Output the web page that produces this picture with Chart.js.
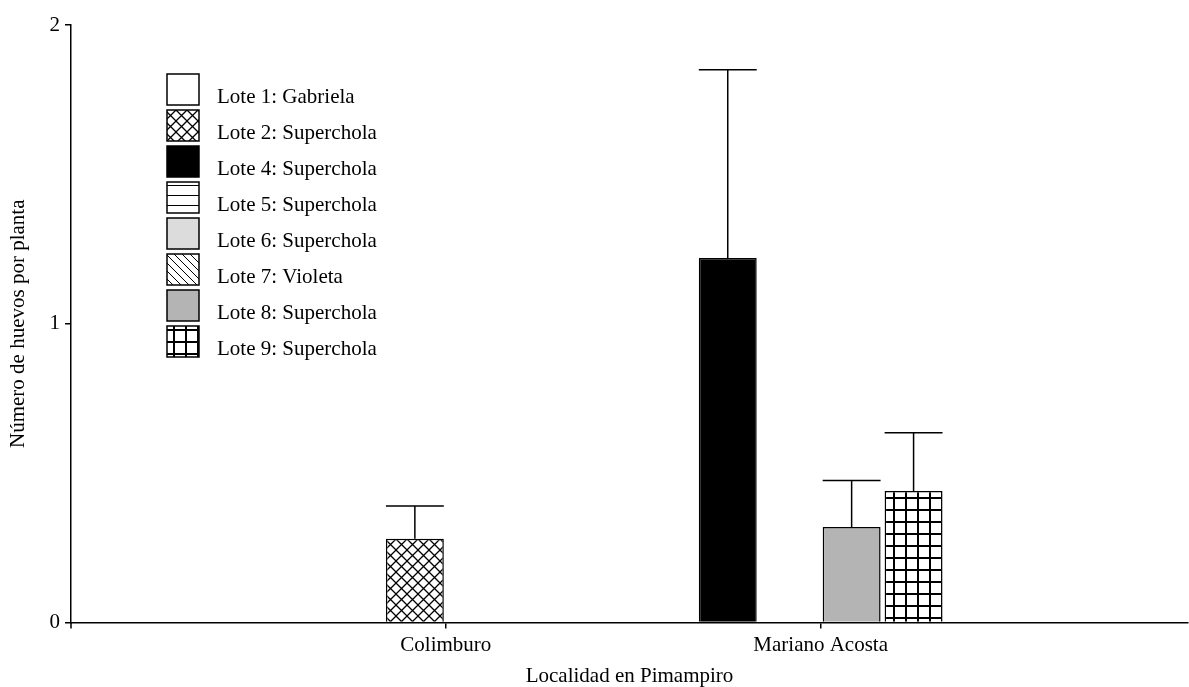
<!DOCTYPE html>
<html>
<head>
<meta charset="utf-8">
<script src="https://cdn.jsdelivr.net/npm/chart.js@4.4.0/dist/chart.umd.min.js"></script>
<style>
  html, body { margin: 0; padding: 0; background: #fff; }
  #grafico { display: block; }
</style>
</head>
<body>
<canvas id="grafico" width="1189" height="687"></canvas>
<script>
// localidades (posiciones 1 y 2 del eje x)
const localidades = ['Colimburo', 'Mariano Acosta'];
const lotes = ['Lote 1: Gabriela', 'Lote 2: Superchola', 'Lote 4: Superchola', 'Lote 5: Superchola',
               'Lote 6: Superchola', 'Lote 7: Violeta', 'Lote 8: Superchola', 'Lote 9: Superchola'];

// media de huevos por planta (null = lote no presente en la localidad)
const lote1 = [0, null];
const lote2 = [0.28, null];
const lote4 = [null, 1.22];
const lote5 = [0, null];
const lote6 = [null, 0];
const lote7 = [0, null];
const lote8 = [null, 0.32];
const lote9 = [null, 0.44];

// error (solo hacia arriba)
const err1 = [0, null];
const err2 = [0.11, null];
const err4 = [null, 0.63];
const err5 = [0, null];
const err6 = [null, 0];
const err7 = [0, null];
const err8 = [null, 0.155];
const err9 = [null, 0.195];

const yTicks = [0, 1, 2];

const FUENTE = '"Liberation Serif", "Times New Roman", serif';
const canvas = document.getElementById('grafico');
const ctx = canvas.getContext('2d');

// tramas en blanco y negro
function trama(w, h, dibujar) {
  const c = document.createElement('canvas');
  c.width = w; c.height = h;
  const g = c.getContext('2d');
  g.fillStyle = '#fff';
  g.fillRect(0, 0, w, h);
  g.strokeStyle = '#000';
  dibujar(g, w, h);
  return ctx.createPattern(c, 'repeat');
}

const cruzada = trama(11, 11, (g, w, h) => {
  g.lineWidth = 1.3;
  g.beginPath();
  g.moveTo(-1, -1); g.lineTo(w + 1, h + 1);
  g.moveTo(w + 1, -1); g.lineTo(-1, h + 1);
  g.stroke();
});
const horizontal = trama(10, 10, (g, w, h) => {
  g.lineWidth = 1;
  g.beginPath();
  g.moveTo(0, 5.5); g.lineTo(w, 5.5);
  g.stroke();
});
const diagonal = trama(8, 8, (g, w, h) => {
  g.lineWidth = 1;
  g.beginPath();
  g.moveTo(-1, -1); g.lineTo(w + 1, h + 1);
  g.moveTo(-1, h - 1); g.lineTo(1, h + 1);
  g.moveTo(w - 1, -1); g.lineTo(w + 1, 1);
  g.stroke();
});
const cuadricula = trama(12, 12, (g, w, h) => {
  g.lineWidth = 2;
  g.beginPath();
  g.moveTo(0, 6); g.lineTo(w, 6);
  g.moveTo(6, 0); g.lineTo(6, h);
  g.stroke();
});

const medias = [lote1, lote2, lote4, lote5, lote6, lote7, lote8, lote9];
const errores = [err1, err2, err4, err5, err6, err7, err8, err9];
const rellenos = ['#ffffff', cruzada, '#000000', horizontal, '#dcdcdc', diagonal, '#b4b4b4', cuadricula];

const datasets = lotes.map((nombre, i) => ({
  label: nombre,
  data: medias[i].map((v, j) => ({ x: j + 1, y: v })),
  errores: errores[i],
  backgroundColor: rellenos[i],
  borderColor: '#000',
  borderWidth: 1.5,
  borderSkipped: 'start'
}));

const barrasError = {
  id: 'barrasError',
  afterDatasetsDraw(chart) {
    const c = chart.ctx;
    const yScale = chart.scales.y;
    c.save();
    c.strokeStyle = '#000';
    c.lineWidth = 1.5;
    chart.data.datasets.forEach((ds, i) => {
      const meta = chart.getDatasetMeta(i);
      meta.data.forEach((bar, j) => {
        const v = ds.data[j].y;
        const e = ds.errores[j];
        if (v == null || !e) return;
        const yTop = yScale.getPixelForValue(v + e);
        c.beginPath();
        c.moveTo(bar.x, bar.y);
        c.lineTo(bar.x, yTop);
        c.moveTo(bar.x - bar.width / 2, yTop);
        c.lineTo(bar.x + bar.width / 2, yTop);
        c.stroke();
      });
    });
    // el eje y baja un poco por debajo del cero
    const area = chart.chartArea;
    c.beginPath();
    c.moveTo(area.left, area.bottom);
    c.lineTo(area.left, area.bottom + 6);
    c.stroke();
    c.restore();
  }
};

const leyenda = {
  id: 'leyenda',
  afterDraw(chart) {
    const c = chart.ctx;
    c.save();
    chart.data.datasets.forEach((ds, i) => {
      const x = 167, y = 74 + i * 36;
      c.fillStyle = ds.backgroundColor;
      c.fillRect(x, y, 32, 31);
      c.lineWidth = 1.5;
      c.strokeStyle = '#000';
      c.strokeRect(x, y, 32, 31);
      c.fillStyle = '#000';
      c.font = '21px ' + FUENTE;
      c.textBaseline = 'alphabetic';
      c.fillText(ds.label, 217, y + 29);
    });
    c.restore();
  }
};

new Chart(ctx, {
  type: 'bar',
  data: { datasets: datasets },
  options: {
    responsive: false,
    animation: false,
    layout: { padding: { left: 0, right: 1, top: 25, bottom: 0 } },
    datasets: {
      bar: { skipNull: true, categoryPercentage: 0.661, barPercentage: 0.935 }
    },
    plugins: {
      legend: { display: false },
      tooltip: { enabled: false }
    },
    scales: {
      x: {
        type: 'linear',
        min: 0,
        max: 2.98,
        offset: false,
        afterBuildTicks: (scale) => { scale.ticks = localidades.map((l, i) => ({ value: i + 1 })); },
        afterFit: (scale) => { scale.height = 64.5; },
        ticks: {
          callback: (v) => localidades[v - 1],
          color: '#000',
          padding: 4,
          maxRotation: 0,
          font: { family: FUENTE, size: 21 }
        },
        grid: { offset: false, drawOnChartArea: false, drawTicks: true, tickLength: 6, color: '#000', lineWidth: 1.5 },
        border: { display: true, color: '#000', width: 1.5 },
        title: {
          display: true,
          text: 'Localidad en Pimampiro',
          color: '#000',
          padding: { top: 0, bottom: 0 },
          font: { family: FUENTE, size: 21, lineHeight: 1 }
        }
      },
      y: {
        min: 0,
        max: 2,
        afterBuildTicks: (scale) => { scale.ticks = yTicks.map(v => ({ value: v })); },
        afterFit: (scale) => { scale.width = 71; },
        ticks: {
          color: '#000',
          padding: 5,
          font: { family: FUENTE, size: 21 }
        },
        grid: { drawOnChartArea: false, drawTicks: true, tickLength: 6, color: '#000', lineWidth: 1.5 },
        border: { display: true, color: '#000', width: 1.5 },
        title: {
          display: true,
          text: 'Número de huevos por planta',
          color: '#000',
          padding: { top: 8, bottom: 0 },
          font: { family: FUENTE, size: 21, lineHeight: 1 }
        }
      }
    }
  },
  plugins: [barrasError, leyenda]
});
</script>
</body>
</html>
